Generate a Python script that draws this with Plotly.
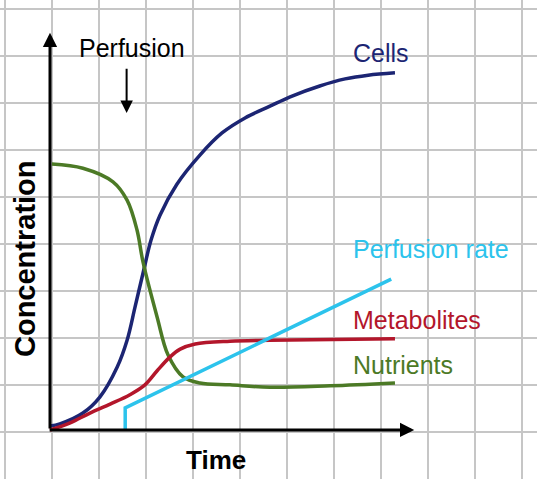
import plotly.graph_objects as go

# time and concentration in grid units (arbitrary)
cells_t = [0, 0.21, 0.70, 1.06, 1.43, 1.64, 1.81, 1.98, 2.15, 2.34, 2.70, 3.19, 3.66, 4.15, 4.68, 5.11, 5.74, 6.28, 6.77, 7.34]
cells_c = [0.085, 0.13, 0.36, 0.70, 1.34, 1.91, 2.62, 3.34, 4.04, 4.57, 5.23, 5.85, 6.32, 6.64, 6.89, 7.09, 7.32, 7.47, 7.55, 7.60]

nutr_t = [0.04, 0.70, 1.34, 1.64, 1.85, 1.98, 2.28, 2.51, 2.83, 3.19, 3.83, 4.68, 5.96, 7.34]
nutr_c = [5.66, 5.57, 5.28, 4.89, 4.26, 3.57, 2.40, 1.60, 1.13, 1.00, 0.96, 0.91, 0.94, 1.00]

metab_t = [0, 0.43, 0.85, 1.28, 1.70, 2.02, 2.28, 2.55, 2.77, 3.09, 3.83, 4.68, 7.34]
metab_c = [0, 0.15, 0.36, 0.55, 0.75, 0.96, 1.26, 1.55, 1.72, 1.83, 1.89, 1.91, 1.94]

rate_t = [1.60, 1.60, 7.26]
rate_c = [0, 0.47, 3.21]

FONT = "Liberation Sans, Arial, sans-serif"
NAVY = "#1c2573"
GREEN = "#4c7a26"
RED = "#b3162b"
CYAN = "#2cc3ec"

fig = go.Figure()
fig.add_trace(go.Scatter(x=cells_t, y=cells_c, mode="lines", line=dict(color=NAVY, width=3.5, shape="spline")))
fig.add_trace(go.Scatter(x=nutr_t, y=nutr_c, mode="lines", line=dict(color=GREEN, width=3.5, shape="spline")))
fig.add_trace(go.Scatter(x=metab_t, y=metab_c, mode="lines", line=dict(color=RED, width=3.5, shape="spline")))
fig.add_trace(go.Scatter(x=rate_t, y=rate_c, mode="lines", line=dict(color=CYAN, width=3.5)))

# axis arrows
fig.add_annotation(x=0, y=8.45, ax=0, ay=0, axref="x", ayref="y", text="",
                   showarrow=True, arrowhead=2, arrowsize=0.95, arrowwidth=3, arrowcolor="black")
fig.add_annotation(x=7.75, y=0, ax=-0.04, ay=0, axref="x", ayref="y", text="",
                   showarrow=True, arrowhead=2, arrowsize=0.95, arrowwidth=3, arrowcolor="black")
# perfusion start arrow
fig.add_annotation(x=1.63, y=6.745, ax=1.63, ay=7.72, axref="x", ayref="y", text="",
                   showarrow=True, arrowhead=2, arrowsize=1.25, arrowwidth=2, arrowcolor="black")

labels = [
    ("Perfusion", 1.745, 8.12, "center", "black"),
    ("Cells", 6.40, 8.02, "left", NAVY),
    ("Perfusion rate", 6.40, 3.86, "left", CYAN),
    ("Metabolites", 6.40, 2.33, "left", RED),
    ("Nutrients", 6.40, 1.38, "left", GREEN),
]
for txt, x, y, xa, col in labels:
    fig.add_annotation(x=x, y=y, text=txt, showarrow=False, xanchor=xa, yanchor="middle",
                       font=dict(family=FONT, size=25, color=col))

fig.add_annotation(x=3.53, y=-0.64, text="<b>Time</b>", showarrow=False,
                   font=dict(family=FONT, size=26, color="black"))
fig.add_annotation(x=-0.53, y=3.64, text="<b>Concentration</b>", showarrow=False, textangle=-90,
                   font=dict(family=FONT, size=29, color="black"))

grid = dict(showgrid=True, gridcolor="#c6c6c6", gridwidth=1.5, dtick=1, showticklabels=False,
            zeroline=False, ticks="", showline=False)
fig.update_xaxes(range=[-1.064, 10.362], tick0=0.033, **grid)
fig.update_yaxes(range=[-1.043, 9.149], tick0=-0.053, **grid)
fig.update_layout(width=537, height=479, margin=dict(l=0, r=0, t=0, b=0),
                  plot_bgcolor="white", paper_bgcolor="white", showlegend=False)

# page body margin would push the figure 8px right/down
fig.write_html("out.html", config={"displayModeBar": False},
               post_script="document.body.style.margin='0';")
